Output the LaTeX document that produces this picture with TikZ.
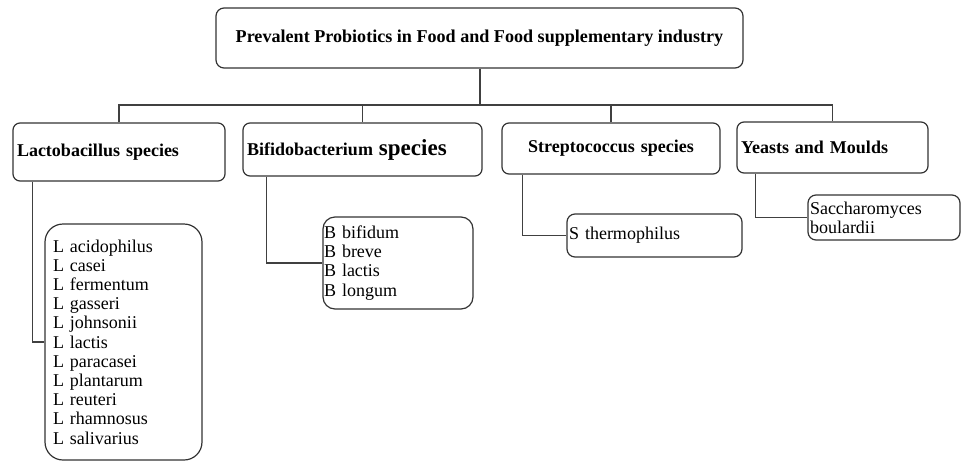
\documentclass[tikz,border=0pt]{standalone}
\usepackage{fontspec}
\setmainfont{Liberation Serif}
\usetikzlibrary{calc,positioning}

\begin{document}
\begin{tikzpicture}[x=1pt, y=-1pt,
  titlebox/.style={rectangle, draw=black!80, line width=1.2pt, rounded corners=8pt, inner sep=0pt, font=\fontsize{18.1}{20}\selectfont\bfseries},
  groupbox/.style={rectangle, draw=black!80, line width=1.2pt, rounded corners=7pt, inner xsep=4pt, inner ysep=0pt, align=left, font=\fontsize{18}{20}\selectfont\bfseries},
  listbox/.style={rectangle, draw=black!80, line width=1.2pt, rounded corners=8pt, inner xsep=2pt, inner ysep=0pt, align=left, font=\fontsize{18}{19.2}\selectfont},
  link/.style={draw=black!75, line width=1.2pt}
]
\useasboundingbox (0,0) rectangle (962,461);

% Top box
\node[titlebox, minimum width=527pt, minimum height=60pt] (title) at (479.5,38) {Prevalent Probiotics in Food and Food supplementary industry};

% Groups
\node[groupbox, text width=204pt, minimum height=58pt] (lacto) at (119,152) {Lactobacillus species};
\node[groupbox, text width=231pt, minimum height=53pt] (bifido) at (362.5,149.5) {Bifidobacterium {\fontsize{23}{23}\selectfont species}};
\node[groupbox, text width=210pt, minimum height=51pt, align=center] (strep) at (611,148.5) {Streptococcus species};
\node[groupbox, text width=183pt, minimum height=51pt] (yeast) at (832.5,147.5) {Yeasts and Moulds};

% Species lists
\node[listbox, inner xsep=8pt, text width=141pt, minimum height=236pt, rounded corners=18pt] (lactolist) at (123.5,342) {L acidophilus\\ L casei\\ L fermentum\\ L gasseri\\ L johnsonii\\ L lactis\\ L paracasei\\ L plantarum\\ L reuteri\\ L rhamnosus\\ L salivarius};
\node[listbox, inner xsep=1pt, text width=148pt, minimum height=92pt, rounded corners=12pt] (bifidolist) at (398,263) {B bifidum\\ B breve\\ B lactis\\ B longum};
\node[listbox, text width=171pt, minimum height=43pt] (streplist) at (654.5,235.5) {S thermophilus};
\node[listbox, text width=148pt, minimum height=45pt] (yeastlist) at (884,217.5) {Saccharomyces\\ boulardii};

% Connections
\coordinate (bar) at (480,105);
\draw[link, line width=2pt] (title.south) -- (title.south |- bar);
\draw[link] (lacto.north) -- (lacto.north |- bar) -- (yeast.north |- bar) -- (yeast.north);
\draw[link] (bifido.north) -- (bifido.north |- bar);
\draw[link] (strep.north) -- (strep.north |- bar);

\draw[link] ([xshift=20]lacto.south west) |- (lactolist.west);
\draw[link] ([xshift=24]bifido.south west) |- (bifidolist.west);
\draw[link] ([xshift=21]strep.south west) |- (streplist.west);
\draw[link] ([xshift=19]yeast.south west) |- (yeastlist.west);

\end{tikzpicture}
\end{document}
